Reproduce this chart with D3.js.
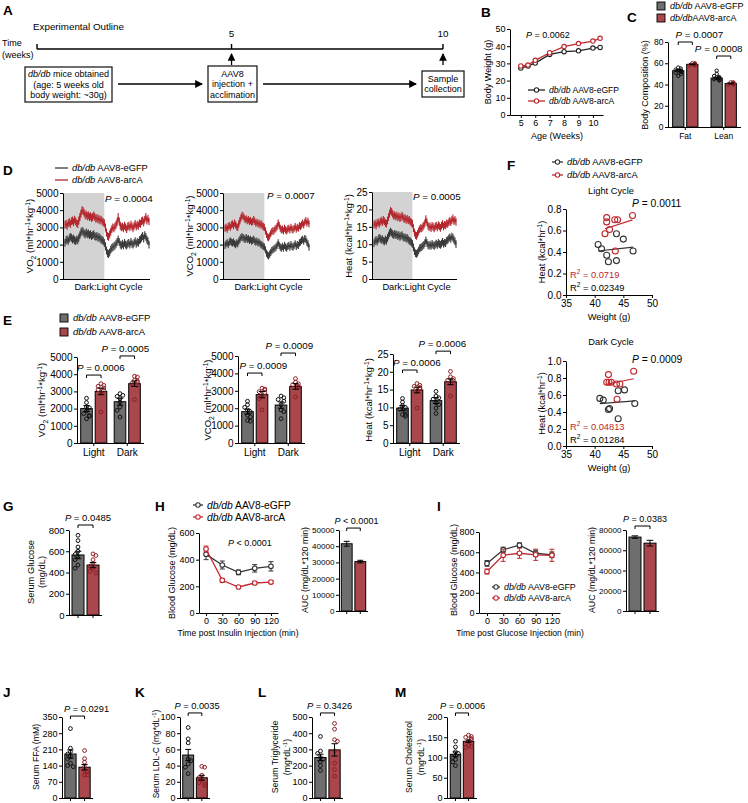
<!DOCTYPE html>
<html><head><meta charset="utf-8">
<script src="https://cdn.jsdelivr.net/npm/d3@7/dist/d3.min.js"></script>
<style>html,body{margin:0;padding:0;background:#fff;} svg{display:block;}</style>
</head><body>
<svg id="fig" width="748" height="803" xmlns="http://www.w3.org/2000/svg"></svg>
<script>
// ===================== DATA =====================
// Panel A – timeline
const tlWeeks = [0.4, 5, 10];
const tlLabels = ["", "5", "10"];
// Panel B – body weight
const bWeeks = [5, 5.5, 6, 7, 8, 9, 10, 10.5];
const bWeightGFP = [27.3, 28.5, 30.2, 35.2, 36.8, 37.3, 38.9, 39.3];
const bWeightArc = [28.5, 29.0, 31.8, 36.2, 39.8, 41.5, 43.0, 44.6];
const bAgeTicks = [5, 6, 7, 8, 9, 10];
const bWeightTicks = [0, 10, 20, 30, 40, 50];
// Panel C – body composition
const cCats = ["Fat", "Lean"];
const cMeanGFP = [53, 46];
const cMeanArc = [59, 41];
const cSemGFP = [1.0, 1.0];
const cSemArc = [0.4, 0.4];
const cDotsGFP = [[56, 55, 54, 53, 53, 52, 52, 51, 50, 48], [53, 50, 48, 47, 46, 46, 45, 45, 44, 44]];
const cDotsArc = [[60, 59.5, 59, 59, 58.5, 58, 58, 59, 60, 58.5], [42, 41.5, 41, 41, 40.5, 40, 40, 41, 42, 40.5]];
const cTicks = [0, 20, 40, 60, 80];
// Panel D – time courses (dark phase ends at index dDarkEnd)
const dDarkEnd = 37;
const dVO2Arc = [3150,3200,3100,3250,3300,3200,3350,3400,3300,3450, 3350,3250,3200,3400,3600,3800,4000,3950,3850,3700,
 3750,3650,3700,3600,3650,3550,3600,3700,3600,3500, 3550,3450,3500,3400,3450,3350,3300,3250,
 3000,2700,2500,2450,2600,2750,2900,3000,2950,3050,3150,3300, 3600,3350,3100,3000,3050,2950,3100,3000,2900,3050,
 3100,3000,3150,3050,2950,3100,3200,3050,3150,3100, 3250,3200,3350,3400,3300,3450,3600,3400,3500,3350];
const dVO2GFP = [2100,2250,2300,2200,2350,2450,2400,2300,2350,2250, 2200,2300,2250,2400,2550,2700,2800,2750,2650,2600,
 2700,2600,2650,2550,2600,2500,2550,2600,2500,2450, 2500,2400,2450,2350,2300,2250,2200,2100,
 1900,1650,1500,1450,1550,1700,1800,1850,1900,1950,2050,2150, 2300,2150,2000,1950,2050,1950,2100,2000,1950,2050,
 2100,2000,2150,2050,2000,2100,2200,2050,2150,2100, 2250,2300,2400,2500,2350,2550,2450,2300,2200,2000];
const dVCO2Arc = [2950,3000,2900,3050,3100,3000,3150,3200,3100,3250, 3150,3050,3000,3200,3400,3550,3700,3650,3550,3450,
 3500,3400,3450,3350,3400,3300,3350,3450,3350,3250, 3300,3200,3250,3150,3200,3100,3050,3000,
 2800,2600,2450,2400,2500,2650,2750,2800,2800,2900,2950,3050, 3250,3100,2950,2850,2900,2800,2950,2850,2800,2900,
 2950,2850,3000,2900,2850,2950,3050,2900,3000,2950, 3100,3050,3150,3250,3150,3300,3400,3250,3350,3200];
const dVCO2GFP = [1950,2050,2100,2000,2150,2200,2150,2100,2150,2050, 2000,2100,2050,2200,2300,2400,2450,2400,2350,2300,
 2400,2300,2350,2250,2300,2200,2250,2300,2200,2150, 2200,2100,2150,2050,2000,1950,1900,1850,
 1700,1500,1400,1350,1450,1550,1650,1700,1750,1800,1850,1950, 2100,1950,1850,1800,1900,1800,1950,1850,1800,1900,
 1950,1850,2000,1900,1850,1950,2050,1900,2000,1950, 2100,2150,2250,2300,2200,2350,2300,2150,2050,1850];
const dHeatArc = [15.6,15.9,15.4,16.1,16.3,15.8,16.5,16.8,16.3,17.0, 16.6,16.1,15.9,16.8,17.8,18.8,19.6,19.3,18.7,18.1,
 18.4,17.9,18.2,17.7,18.0,17.5,17.8,18.2,17.7,17.2, 17.5,17.0,17.3,16.8,17.0,16.5,16.2,15.9,
 14.6,13.3,12.6,12.4,13.0,13.7,14.3,14.6,14.5,15.0,15.4,16.0, 17.2,16.3,15.3,14.9,15.1,14.6,15.3,14.9,14.5,15.1,
 15.3,14.8,15.5,15.1,14.7,15.3,15.8,15.1,15.6,15.4, 16.0,15.8,16.3,16.7,16.3,16.9,17.4,16.6,17.0,16.4];
const dHeatGFP = [10.3,10.9,11.2,10.7,11.4,11.8,11.6,11.2,11.5,11.0, 10.8,11.3,11.0,11.8,12.5,13.2,13.6,13.3,12.9,12.6,
 13.0,12.6,12.8,12.3,12.6,12.1,12.4,12.6,12.1,11.8, 12.0,11.6,11.8,11.3,11.0,10.8,10.5,10.1,
 9.1,8.0,7.4,7.2,7.6,8.2,8.8,9.0,9.2,9.5,9.8,10.3, 11.1,10.4,9.8,9.5,9.9,9.5,10.1,9.7,9.5,9.9,
 10.2,9.8,10.4,10.0,9.8,10.2,10.7,10.1,10.5,10.3, 11.0,11.2,11.6,12.0,11.5,12.2,11.9,11.3,10.8,10.0];
const dSem = [230, 210, 1.1];   // VO2, VCO2, Heat
// Panel E – light/dark means
const eCats = ["Light", "Dark"];
const eVO2MeanGFP = [2000, 2400], eVO2MeanArc = [3000, 3450];
const eVO2SemGFP = [170, 200], eVO2SemArc = [190, 160];
const eVO2DotsGFP = [[2600,2350,2100,2050,1850,1700,1600,1550,1400],[2870,2770,2710,2580,2380,2090,1900,1510]];
const eVO2DotsArc = [[3450,3350,3300,3200,3100,3050,2900,1800],[3880,3840,3640,3600,3550,3450,3350,2520]];
const eVCO2MeanGFP = [1800, 2180], eVCO2MeanArc = [2780, 3250];
const eVCO2SemGFP = [140, 180], eVCO2SemArc = [180, 160];
const eVCO2DotsGFP = [[2400,2200,2050,1900,1800,1600,1500,1300,1250],[2700,2600,2500,2400,2200,1900,1800,1400]];
const eVCO2DotsArc = [[3150,3100,3050,2950,2900,2700,2550,1900],[3700,3500,3400,3350,3250,3200,2650]];
const eHeatMeanGFP = [9.8, 11.9], eHeatMeanArc = [14.9, 17.2];
const eHeatSemGFP = [0.7, 0.8], eHeatSemArc = [0.8, 0.8];
const eHeatDotsGFP = [[12.5,11.5,10.5,10,9.5,9,8,8,7.5],[14.5,13.2,12.7,12.3,11.3,10.8,9.8,8.3]];
const eHeatDotsArc = [[16.7,16.2,15.9,15.5,15.2,14.5,15.5,9.8],[20.1,18.6,18.1,17.6,17.5,16.7,13.2]];
const eTicksVol = [0,1000,2000,3000,4000,5000];
const eTicksHeat = [0,5,10,15,20,25];
// Panel F – heat vs weight
const fLightWtGFP = [40.6, 41.2, 42.1, 42.4, 43.8, 43.8, 45.0, 46.7];
const fLightHeatGFP = [0.47, 0.43, 0.37, 0.31, 0.57, 0.32, 0.52, 0.41];
const fLightWtArc = [42.1, 42.1, 43.5, 44.0, 46.6, 41.8, 42.6, 43.6];
const fLightHeatArc = [0.72, 0.68, 0.70, 0.70, 0.74, 0.57, 0.61, 0.41];
const fDarkWtGFP = [40.9, 41.5, 42.4, 42.6, 44.1, 45.2, 47.0, 44.1];
const fDarkHeatGFP = [0.56, 0.54, 0.43, 0.44, 0.65, 0.66, 0.50, 0.32];
const fDarkWtArc = [42.4, 46.8, 42.1, 42.5, 42.9, 43.8, 44.4, 43.9];
const fDarkHeatArc = [0.84, 0.88, 0.75, 0.75, 0.75, 0.73, 0.73, 0.55];
const fWtTicks = [35, 40, 45, 50];
// Panel G
const gMean = [565, 470], gSem = [35, 25];
const gDotsGFP = [750, 700, 640, 600, 570, 550, 520, 470, 440];
const gDotsArc = [575, 560, 520, 480, 460, 440, 410, 395];
// Panel H – ITT
const hTimes = [0, 30, 60, 90, 120];
const hGFP = [440, 360, 305, 335, 350], hGFPErr = [40, 30, 18, 28, 35];
const hArc = [480, 245, 195, 225, 232], hArcErr = [22, 15, 10, 12, 12];
const hAUC = [41500, 30500], hAUCErr = [1500, 800];
// Panel I – GTT
const iGFP = [490, 625, 670, 590, 575], iGFPErr = [28, 25, 22, 30, 28];
const iArc = [410, 570, 590, 575, 570], iArcErr = [25, 60, 50, 55, 60];
const iAUC = [73000, 67000], iAUCErr = [1200, 2800];
// Panels J–M serum
const jMean = [190, 133], jSem = [18, 12];
const jDotsGFP = [300, 215, 200, 190, 180, 170, 150, 140, 135], jDotsArc = [205, 170, 155, 135, 120, 115, 100, 100];
const kMean = [53, 25], kSem = [7, 3];
const kDotsGFP = [87, 73, 68, 48, 46, 42, 38, 30], kDotsArc = [39, 38, 28, 25, 22, 19, 17, 15];
const lMean = [250, 297], lSem = [20, 38];
const lDotsGFP = [380, 290, 275, 250, 240, 225, 200, 170], lDotsArc = [460, 425, 360, 350, 290, 215, 175, 135];
const mMean = [108, 140], mSem = [6, 3];
const mDotsGFP = [140, 126, 114, 110, 105, 100, 95, 89, 80], mDotsArc = [155, 152, 150, 147, 145, 140, 130, 127, 125];

// ===================== STYLE / HELPERS =====================
const FONT = "'Liberation Sans', Arial, Helvetica, sans-serif";
const GRAY_FILL = "#6e6e6e", RED_FILL = "#a9474c", RED_LINE = "#b3262c", GRAY_LINE = "#3a3a3a";
const RED_DOT = "#8e1f24", RED_SC = "#c0282e", BLACK_SC = "#333";
const svg = d3.select("#fig");
svg.append("rect").attr("width", 748).attr("height", 803).attr("fill", "#fff");

function rich(t, parts, fs) {
  let shift = 0;
  parts.forEach(p => {
    const s = typeof p === "string" ? p : p[0];
    const k = typeof p === "string" ? "n" : p[1];
    const ts = t.append("tspan").text(s);
    let target = 0;
    if (k === "sub") { target = fs * 0.28; ts.attr("font-size", fs * 0.72); }
    if (k === "sup") { target = -fs * 0.4; ts.attr("font-size", fs * 0.7); }
    if (k === "i") ts.attr("font-style", "italic");
    if (target !== shift) { ts.attr("dy", target - shift); shift = target; }
  });
}
function txt(x, y, parts, fs, o = {}) {
  const t = svg.append("text").attr("font-family", FONT).attr("font-size", fs).attr("fill", o.fill || "#000");
  if (o.rot) t.attr("transform", `translate(${x},${y}) rotate(-90)`); else t.attr("x", x).attr("y", y);
  if (o.anchor) t.attr("text-anchor", o.anchor);
  if (o.bold) t.attr("font-weight", "bold");
  rich(t, typeof parts === "string" ? [parts] : parts, fs);
  return t;
}
function ylab(cx, cy, parts, fs) { return txt(cx + fs * 0.35, cy, parts, fs, { rot: true, anchor: "middle" }); }
function xlab(cx, cy, parts, fs) { return txt(cx, cy + fs * 0.35, parts, fs, { anchor: "middle" }); }
function panel(l, x, y) { txt(x, y, l, 13.5, { bold: true }); }
function styleAxis(ax, fs) {
  ax.attr("font-family", FONT).attr("font-size", fs);
  ax.selectAll("path,line").attr("stroke", "#000").attr("stroke-width", 1);
  ax.selectAll("text").attr("fill", "#000");
}
function yAxis(scale, x, ticks, fs, fmt) {
  const ax = svg.append("g").attr("transform", `translate(${x},0)`)
    .call(d3.axisLeft(scale).tickValues(ticks).tickSize(3).tickSizeOuter(0).tickPadding(1.5).tickFormat(fmt || d3.format("d")));
  styleAxis(ax, fs); return ax;
}
function xAxis(scale, y, ticks, fs, fmt) {
  const ax = svg.append("g").attr("transform", `translate(0,${y})`)
    .call(d3.axisBottom(scale).tickValues(ticks).tickSize(3).tickSizeOuter(0).tickPadding(2).tickFormat(fmt || d3.format("d")));
  styleAxis(ax, fs); return ax;
}
const labG = [["db/db", "i"], " AAV8-eGFP"];
const labA = [["db/db", "i"], " AAV8-arcA"];
const pTxt = (op, v) => [["P", "i"], ` ${op} ${v}`];
function legendLine(x, y, len, color, parts, fs, circ) {
  svg.append("line").attr("x1", x).attr("x2", x + len).attr("y1", y).attr("y2", y).attr("stroke", color).attr("stroke-width", 1.3);
  if (circ) svg.append("circle").attr("cx", x + len / 2).attr("cy", y).attr("r", 2.2).attr("fill", "#fff").attr("stroke", color).attr("stroke-width", 1.1);
  txt(x + len + 4, y + fs * 0.35, parts, fs);
}
function legendBox(x, y, color, parts, fs) {
  svg.append("rect").attr("x", x).attr("y", y - 4).attr("width", 8).attr("height", 8).attr("fill", color).attr("stroke", "#000").attr("stroke-width", 0.9);
  txt(x + 13, y + fs * 0.35, parts, fs);
}
function bracket(x1, x2, y, label, fs, dx) {
  svg.append("path").attr("d", `M${x1},${y + 3}V${y}H${x2}V${y + 3}`).attr("fill", "none").attr("stroke", "#000").attr("stroke-width", 1);
  txt((x1 + x2) / 2 + dx, y - 4, label, fs, { anchor: "middle" });
}
function swarm(vals, y, r, maxOff) {
  const placed = [];
  const offs = [0, -1, 1, -2, 2, -3, 3].map(k => k * r * 1.5).filter(o => Math.abs(o) <= maxOff);
  return vals.map(v => {
    const py = y(v); let best = offs[offs.length - 1];
    for (const o of offs) { if (placed.every(p => Math.hypot(p[0] - o, p[1] - py) >= 2 * r * 0.9)) { best = o; break; } }
    placed.push([best, py]); return [best, py];
  });
}
function errBar(x, y1, y2, cap, col) {
  svg.append("path").attr("d", `M${x},${y1}V${y2}M${x - cap / 2},${y1}H${x + cap / 2}M${x - cap / 2},${y2}H${x + cap / 2}`)
    .attr("stroke", col || "#000").attr("stroke-width", 1).attr("fill", "none");
}

// ---------- Bar chart helper ----------
function barChart(o) {
  const y = d3.scaleLinear().domain([0, o.max]).range([o.yBot, o.yTop]);
  const nCat = o.means[0].length;
  const xo = d3.scaleBand().domain(d3.range(nCat)).range([o.axisX, o.axisX + o.width]).paddingInner(o.pin || 0);
  const xi = d3.scaleBand().domain([0, 1]).range([0, xo.bandwidth()]).paddingInner(0.2).paddingOuter(o.ipo);
  const fills = [GRAY_FILL, RED_FILL], dcols = ["#111", RED_DOT];
  const bw = xi.bandwidth();
  const cx = (c, k) => xo(c) + xi(k) + bw / 2;
  for (let c = 0; c < nCat; c++) for (let k = 0; k < 2; k++) {
    const m = o.means[k][c];
    svg.append("rect").attr("x", xo(c) + xi(k)).attr("width", bw).attr("y", y(m)).attr("height", o.yBot - y(m))
      .attr("fill", fills[k]).attr("stroke", "#000").attr("stroke-width", 1);
    if (o.dots) {
      const pts = swarm(o.dots[k][c], y, o.r || 1.9, bw / 2 - 1);
      svg.append("g").selectAll("circle").data(pts).join("circle")
        .attr("cx", d => cx(c, k) + d[0]).attr("cy", d => d[1]).attr("r", o.r || 1.9)
        .attr("fill", "none").attr("stroke", dcols[k]).attr("stroke-width", 1);
    }
    const s = o.sems[k][c];
    errBar(cx(c, k), y(m - s), y(m + s), bw * 0.55);
  }
  svg.append("line").attr("x1", o.axisX).attr("x2", o.axisX + o.width).attr("y1", o.yBot + 0.5).attr("y2", o.yBot + 0.5).attr("stroke", "#000");
  const tickXs = o.catNames ? d3.range(nCat).map(c => xo(c) + xo.bandwidth() / 2) : d3.range(nCat).flatMap(c => [cx(c, 0), cx(c, 1)]);
  tickXs.forEach(tx => svg.append("line").attr("x1", tx).attr("x2", tx).attr("y1", o.yBot).attr("y2", o.yBot + 3).attr("stroke", "#000"));
  if (o.catNames) o.catNames.forEach((n, c) => txt(xo(c) + xo.bandwidth() / 2, o.yBot + 3 + o.fs, n, o.fs, { anchor: "middle" }));
  yAxis(y, o.axisX, o.ticks, o.fs, o.fmt);
  (o.brackets || []).forEach(b => bracket(cx(b.cat, 0), cx(b.cat, 1), y(b.level), pTxt(b.op || "=", b.p), o.pfs, b.dx));
  return { y, cx };
}

// ---------- Line chart helper ----------
function lineChart(o) {
  const x = d3.scaleLinear().domain(o.xDom).range(o.xRange);
  const y = d3.scaleLinear().domain([0, o.max]).range([o.yBot, o.yTop]);
  xAxis(x, o.yBot, o.xTicks, o.fs);
  yAxis(y, o.xRange[0], o.yTicks, o.fs);
  o.series.forEach(s => {
    if (s.err) s.vals.forEach((v, i) => errBar(x(o.xs[i]), y(v - s.err[i]), y(v + s.err[i]), 5, s.color));
    svg.append("path").datum(s.vals).attr("d", d3.line().x((d, i) => x(o.xs[i])).y(d => y(d)))
      .attr("fill", "none").attr("stroke", s.color).attr("stroke-width", 1.3);
    svg.append("g").selectAll("circle").data(s.vals).join("circle")
      .attr("cx", (d, i) => x(o.xs[i])).attr("cy", d => y(d)).attr("r", o.r || 2.3)
      .attr("fill", "#fff").attr("stroke", s.color).attr("stroke-width", 1.1);
  });
  return { x, y };
}

// ===================== PANEL A =====================
panel("A", 3, 15);
txt(33, 30, "Experimental Outline", 9.8);
const tl = d3.scaleLinear().domain([tlWeeks[0], 10]).range([37, 443]);
svg.append("line").attr("x1", tl(tlWeeks[0])).attr("x2", tl(10)).attr("y1", 49).attr("y2", 49).attr("stroke", "#000").attr("stroke-width", 1.4);
tlWeeks.forEach((w, i) => {
  svg.append("line").attr("x1", tl(w)).attr("x2", tl(w)).attr("y1", 44).attr("y2", 49).attr("stroke", "#000").attr("stroke-width", 1.4);
  if (tlLabels[i]) txt(tl(w), 37, tlLabels[i], 9.8, { anchor: "middle" });
});
txt(2, 46, "Time", 9); txt(2, 58, "(weeks)", 9);
const defs = svg.append("defs");
defs.append("marker").attr("id", "arr").attr("viewBox", "0 0 8 8").attr("refX", 7).attr("refY", 4)
  .attr("markerWidth", 6).attr("markerHeight", 6).attr("orient", "auto")
  .append("path").attr("d", "M0,0L8,4L0,8z").attr("fill", "#000");
function arrow(x1, y1, x2, y2) {
  svg.append("line").attr("x1", x1).attr("y1", y1).attr("x2", x2).attr("y2", y2).attr("stroke", "#000").attr("stroke-width", 1.3).attr("marker-end", "url(#arr)");
}
[5, 10].forEach(w => arrow(tl(w), 65, tl(w), 54));
function box(x, y, w, h, lines, fs) {
  svg.append("rect").attr("x", x).attr("y", y).attr("width", w).attr("height", h).attr("fill", "#fff").attr("stroke", "#222").attr("stroke-width", 1.3);
  const lh = fs * 1.15, y0 = y + h / 2 - (lines.length - 1) * lh / 2 + fs * 0.35;
  lines.forEach((l, i) => txt(x + w / 2, y0 + i * lh, l, fs, { anchor: "middle" }));
}
box(25, 67, 87, 35, [[["db/db", "i"], " mice obtained"], "(age: 5 weeks old", "body weight: ~30g)"], 9);
box(208, 66, 49, 36, ["AAV8", "injection +", "acclimation"], 9);
box(422, 71, 42, 26, ["Sample", "collection"], 9);
arrow(118, 84, 202, 84);
arrow(263, 84, 416, 84);

// ===================== PANEL B =====================
panel("B", 481, 17);
lineChart({
  xDom: [4.25, 10.7], xRange: [510, 603], yTop: 29, yBot: 115, max: 50, xs: bWeeks,
  xTicks: bAgeTicks, yTicks: bWeightTicks, fs: 9, r: 2.2,
  series: [{ vals: bWeightGFP, color: "#222" }, { vals: bWeightArc, color: RED_SC }]
});
txt(526, 38, pTxt("=", "0.0062"), 9);
legendLine(528, 90, 17, "#222", labG, 8.6, true);
legendLine(528, 101, 17, RED_SC, labA, 8.6, true);
ylab(488, 72, "Body Weight (g)", 9);
xlab(557, 136, "Age (Weeks)", 9);

// ===================== PANEL C =====================
panel("C", 627, 22);
legendBox(657, 6, GRAY_FILL, labG, 9);
legendBox(657, 18, RED_FILL, [["db/db", "i"], "AAV8-arcA"], 9);
barChart({
  axisX: 668, width: 73, pin: 0.1, ipo: 0.33, yTop: 42, yBot: 127, max: 80, ticks: cTicks, fs: 8.5, pfs: 9.8, r: 1.7,
  means: [cMeanGFP, cMeanArc], sems: [cSemGFP, cSemArc], dots: [cDotsGFP, cDotsArc], catNames: cCats,
  brackets: [{ cat: 0, level: 80, p: "0.0007", dx: 14 }, { cat: 1, level: 66.8, p: "0.0008", dx: -5 }]
});
ylab(645, 85, "Body Composition (%)", 9);

// ===================== PANEL D =====================
panel("D", 3, 175);
legendLine(55, 168, 13, GRAY_LINE, labG, 9.3, false);
legendLine(55, 180, 13, RED_LINE, labA, 9.3, false);
const vo2Lab = ["VO", ["2", "sub"], " (ml*hr", ["-1", "sup"], "*kg", ["-1", "sup"], ")"];
const vco2Lab = ["VCO", ["2", "sub"], " (ml*hr", ["-1", "sup"], "*kg", ["-1", "sup"], ")"];
const heatLab = ["Heat (kcal*hr", ["-1", "sup"], "*kg", ["-1", "sup"], ")"];
const dCharts = [
  { left: 63, right: 150, yTop: 193, max: 5000, ticks: eTicksVol, gfp: dVO2GFP, arc: dVO2Arc, sem: dSem[0], p: "0.0004", px: 105, py: 201.5, lab: vo2Lab, labX: 30 },
  { left: 223, right: 310, yTop: 193, max: 5000, ticks: eTicksVol, gfp: dVCO2GFP, arc: dVCO2Arc, sem: dSem[1], p: "0.0007", px: 267, py: 198.5, lab: vco2Lab, labX: 190 },
  { left: 372, right: 457, yTop: 192, max: 25, ticks: eTicksHeat, gfp: dHeatGFP, arc: dHeatArc, sem: dSem[2], p: "0.0005", px: 413, py: 199.5, lab: heatLab, labX: 349 }
];
dCharts.forEach(o => {
  const yBot = 279, n = o.gfp.length;
  const x = d3.scaleLinear().domain([0, n - 1]).range([o.left + 2, o.right - 1]);
  const y = d3.scaleLinear().domain([0, o.max]).range([yBot, o.yTop]);
  svg.append("rect").attr("x", o.left).attr("y", o.yTop).attr("width", x(dDarkEnd) - o.left).attr("height", yBot - o.yTop).attr("fill", "#d3d3d3");
  [[o.gfp, GRAY_LINE], [o.arc, RED_LINE]].forEach(([vals, col]) => {
    svg.append("g").selectAll("line").data(vals).join("line")
      .attr("x1", (d, i) => x(i)).attr("x2", (d, i) => x(i)).attr("y1", d => y(d - o.sem)).attr("y2", d => y(d + o.sem))
      .attr("stroke", col).attr("stroke-width", 1.1);
    svg.append("path").datum(vals).attr("d", d3.line().x((d, i) => x(i)).y(d => y(d)))
      .attr("fill", "none").attr("stroke", col).attr("stroke-width", 1.4);
  });
  svg.append("line").attr("x1", o.left).attr("x2", o.right).attr("y1", yBot + 0.5).attr("y2", yBot + 0.5).attr("stroke", "#000");
  yAxis(y, o.left, o.ticks, 10);
  txt(o.px, o.py, pTxt("=", o.p), 9.8);
  ylab(o.labX, 236, o.lab, 9.5);
  xlab((o.left + o.right) / 2 + 2, 287, "Dark:Light Cycle", 9.3);
});

// ===================== PANEL E =====================
panel("E", 3, 325);
legendBox(60, 318, GRAY_FILL, labG, 9.5);
legendBox(60, 332, RED_FILL, labA, 9.5);
const eCharts = [
  { axisX: 77, yTop: 357, max: 5000, ticks: eTicksVol, means: [eVO2MeanGFP, eVO2MeanArc], sems: [eVO2SemGFP, eVO2SemArc],
    dots: [eVO2DotsGFP, eVO2DotsArc], lab: vo2Lab, labX: 42,
    brackets: [{ cat: 0, level: 3950, p: "0.0006", dx: 7 }, { cat: 1, level: 5060, p: "0.0005", dx: -2 }] },
  { axisX: 238, yTop: 356, max: 5000, ticks: eTicksVol, means: [eVCO2MeanGFP, eVCO2MeanArc], sems: [eVCO2SemGFP, eVCO2SemArc],
    dots: [eVCO2DotsGFP, eVCO2DotsArc], lab: vco2Lab, labX: 208,
    brackets: [{ cat: 0, level: 4020, p: "0.0009", dx: 8.5 }, { cat: 1, level: 5170, p: "0.0009", dx: 1 }] },
  { axisX: 393, yTop: 354, max: 25, ticks: eTicksHeat, means: [eHeatMeanGFP, eHeatMeanArc], sems: [eHeatSemGFP, eHeatSemArc],
    dots: [eHeatDotsGFP, eHeatDotsArc], lab: heatLab, labX: 369,
    brackets: [{ cat: 0, level: 20.5, p: "0.0006", dx: 7 }, { cat: 1, level: 25.8, p: "0.0006", dx: -1 }] }
];
eCharts.forEach(o => {
  barChart(Object.assign({ width: 67, ipo: 0.255, yBot: 443, fs: 10, pfs: 9.8, r: 1.9, catNames: eCats }, o));
  ylab(o.labX, 400, o.lab, 9.5);
});

// ===================== PANEL F =====================
panel("F", 507, 170);
legendLine(552, 162, 11, BLACK_SC, labG, 9.3, true);
legendLine(552, 175, 11, RED_SC, labA, 9.3, true);
function scatter(o) {
  const x = d3.scaleLinear().domain([35, 50]).range([566, 652]);
  const y = d3.scaleLinear().domain([0, o.max]).range([o.yBot, o.yTop]);
  xAxis(x, o.yBot, fWtTicks, 10);
  yAxis(y, 566, o.ticks, 10, d3.format(".1f"));
  [[o.wg, o.hg, BLACK_SC], [o.wa, o.ha, RED_SC]].forEach(([wx, hy, col]) => {
    const mx = d3.mean(wx), my = d3.mean(hy);
    const slope = d3.sum(wx.map((v, i) => (v - mx) * (hy[i] - my))) / d3.sum(wx.map(v => (v - mx) ** 2));
    const x0 = d3.min(wx), x1 = d3.max(wx);
    svg.append("line").attr("x1", x(x0)).attr("x2", x(x1)).attr("y1", y(my + slope * (x0 - mx))).attr("y2", y(my + slope * (x1 - mx)))
      .attr("stroke", col).attr("stroke-width", 1.1);
    svg.append("g").selectAll("circle").data(wx).join("circle")
      .attr("cx", d => x(d)).attr("cy", (d, i) => y(hy[i])).attr("r", 3).attr("fill", "none").attr("stroke", col).attr("stroke-width", 1.1);
  });
  xlab(611, o.titleY, o.title, 9.3);
  txt(632, o.pY, pTxt("=", o.p), 10.3);
  txt(570, o.r1Y, ["R", ["2", "sup"], " = " + o.r2a], 9.3, { fill: RED_SC });
  txt(570, o.r2Y, ["R", ["2", "sup"], " = " + o.r2g], 9.3);
  ylab(542, (o.yTop + o.yBot) / 2, ["Heat (kcal*hr", ["-1", "sup"], ")"], 9.3);
  xlab(609, o.yBot + 22, "Weight (g)", 9.3);
}
scatter({ yTop: 209, yBot: 295, max: 0.8, ticks: [0, 0.2, 0.4, 0.6, 0.8], wg: fLightWtGFP, hg: fLightHeatGFP, wa: fLightWtArc, ha: fLightHeatArc,
  title: "Light Cycle", titleY: 191, p: "0.0011", pY: 207, r2a: "0.0719", r2g: "0.02349", r1Y: 278, r2Y: 291 });
scatter({ yTop: 361, yBot: 446, max: 1.0, ticks: [0, 0.2, 0.4, 0.6, 0.8, 1.0], wg: fDarkWtGFP, hg: fDarkHeatGFP, wa: fDarkWtArc, ha: fDarkHeatArc,
  title: "Dark Cycle", titleY: 342, p: "0.0009", pY: 363, r2a: "0.04813", r2g: "0.01284", r1Y: 430, r2Y: 443 });

// ===================== PANEL G =====================
panel("G", 3, 511);
barChart({ axisX: 69, width: 33, ipo: 0.2, yTop: 530, yBot: 615, max: 800, ticks: [0, 200, 400, 600, 800], fs: 9.5, pfs: 9.5, r: 1.9,
  means: [[gMean[0]], [gMean[1]]], sems: [[gSem[0]], [gSem[1]]], dots: [[gDotsGFP], [gDotsArc]],
  brackets: [{ cat: 0, level: 847, p: "0.0485", dx: 2.5 }] });
ylab(31, 572, "Serum Glucose", 9.3);
ylab(42, 572, "(mg/dL)", 9.3);

// ===================== PANEL H =====================
panel("H", 155, 511);
legendLine(193, 505, 10, BLACK_SC, labG, 10.3, true);
legendLine(193, 517, 10, RED_SC, labA, 10.3, true);
lineChart({ xDom: [-13, 133], xRange: [199, 278], yTop: 533, yBot: 613, max: 600, xs: hTimes, xTicks: hTimes, yTicks: [0, 200, 400, 600], fs: 9,
  series: [{ vals: hGFP, err: hGFPErr, color: BLACK_SC }, { vals: hArc, err: hArcErr, color: RED_SC }] });
txt(228, 546, pTxt("<", "0.0001"), 9);
ylab(172, 573, "Blood Glucose (mg/dL)", 9);
xlab(238, 633, "Time post Insulin Injection (min)", 8.6);
barChart({ axisX: 339, width: 29, ipo: 0.17, yTop: 530, yBot: 611, max: 50000, ticks: [0, 10000, 20000, 30000, 40000, 50000], fs: 8.1, pfs: 9,
  means: [[hAUC[0]], [hAUC[1]]], sems: [[hAUCErr[0]], [hAUCErr[1]]],
  brackets: [{ cat: 0, level: 51200, p: "0.0001", op: "<", dx: 3 }] });
ylab(305, 570, "AUC (mg/dL*120 min)", 8.8);

// ===================== PANEL I =====================
panel("I", 437, 511);
lineChart({ xDom: [-14.8, 135], xRange: [479, 560], yTop: 532, yBot: 613, max: 800, xs: hTimes, xTicks: hTimes, yTicks: [0, 200, 400, 600, 800], fs: 9,
  series: [{ vals: iGFP, err: iGFPErr, color: BLACK_SC }, { vals: iArc, err: iArcErr, color: RED_SC }] });
legendLine(492, 587, 8, BLACK_SC, labG, 8.8, true);
legendLine(492, 598, 8, RED_SC, labA, 8.8, true);
ylab(454, 570, "Blood Glucose (mg/dL)", 9);
xlab(520, 633, "Time post Glucose Injection (min)", 8.6);
barChart({ axisX: 626, width: 33, ipo: 0.2, yTop: 530, yBot: 611, max: 80000, ticks: [0, 20000, 40000, 60000, 80000], fs: 8.1, pfs: 9,
  means: [[iAUC[0]], [iAUC[1]]], sems: [[iAUCErr[0]], [iAUCErr[1]]],
  brackets: [{ cat: 0, level: 83950, p: "0.0383", dx: 2.5 }] });
ylab(592, 570, "AUC (mg/dL*120 min)", 8.8);

// ===================== PANELS J–M =====================
const mgdl = ["(mg*dL", ["-1", "sup"], ")"];
panel("J", 3, 697);
barChart({ axisX: 62, width: 31, ipo: 0.2, yTop: 717, yBot: 798, max: 350, ticks: [0, 70, 140, 210, 280, 350], fs: 9, pfs: 9.3,
  means: [[jMean[0]], [jMean[1]]], sems: [[jSem[0]], [jSem[1]]], dots: [[jDotsGFP], [jDotsArc]],
  brackets: [{ cat: 0, level: 354, p: "0.0291", dx: 9 }] });
ylab(36, 757, "Serum FFA (mM)", 8.7);
panel("K", 135, 697);
barChart({ axisX: 180, width: 30, ipo: 0.2, yTop: 717, yBot: 798, max: 100, ticks: [0, 20, 40, 60, 80, 100], fs: 9, pfs: 9.3,
  means: [[kMean[0]], [kMean[1]]], sems: [[kSem[0]], [kSem[1]]], dots: [[kDotsGFP], [kDotsArc]],
  brackets: [{ cat: 0, level: 105, p: "0.0035", dx: 2 }] });
ylab(156, 754, ["Serum LDL-C (mg*dL", ["-1", "sup"], ")"], 8.4);
panel("L", 258, 697);
barChart({ axisX: 312, width: 31, ipo: 0.2, yTop: 717, yBot: 798, max: 500, ticks: [0, 100, 200, 300, 400, 500], fs: 9, pfs: 9.3,
  means: [[lMean[0]], [lMean[1]]], sems: [[lSem[0]], [lSem[1]]], dots: [[lDotsGFP], [lDotsArc]],
  brackets: [{ cat: 0, level: 525, p: "0.3426", dx: 2 }] });
ylab(275, 757, "Serum Triglyceride", 8.7);
ylab(287, 757, mgdl, 8.7);
panel("M", 395, 697);
barChart({ axisX: 447, width: 30, ipo: 0.25, yTop: 717, yBot: 798, max: 200, ticks: [0, 50, 100, 150, 200], fs: 9, pfs: 9.3,
  means: [[mMean[0]], [mMean[1]]], sems: [[mSem[0]], [mSem[1]]], dots: [[mDotsGFP], [mDotsArc]],
  brackets: [{ cat: 0, level: 210, p: "0.0006", dx: 0.5 }] });
ylab(409, 757, "Serum Cholesterol", 8.7);
ylab(421, 757, mgdl, 8.7);
</script>
</body></html>
